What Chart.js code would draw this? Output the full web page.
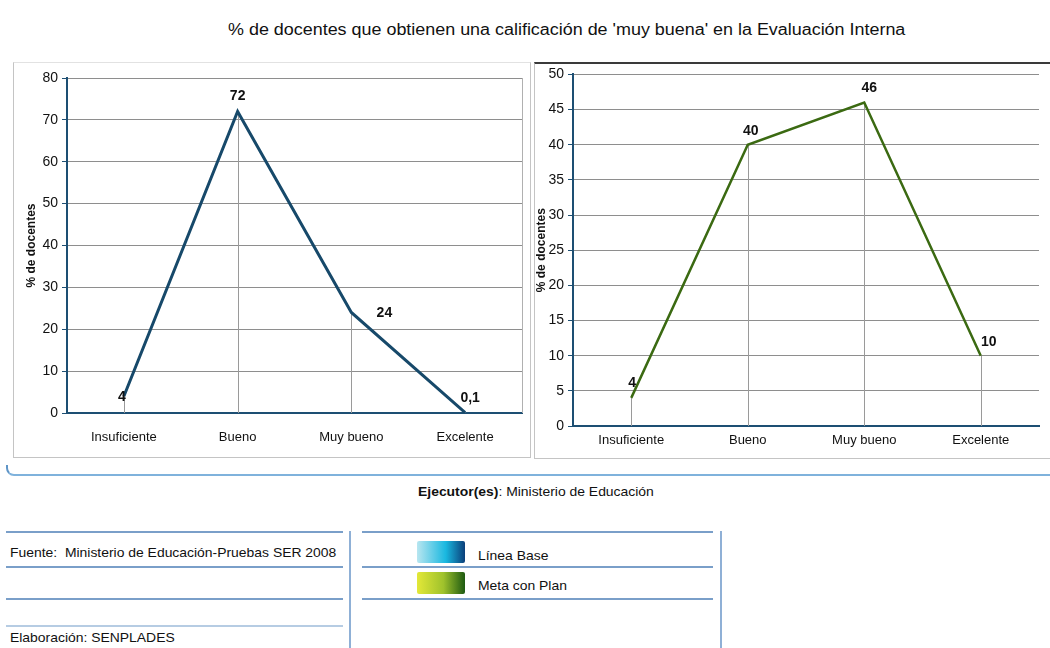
<!DOCTYPE html>
<html>
<head>
<meta charset="utf-8">
<script src="https://cdn.jsdelivr.net/npm/chart.js@4.4.1/dist/chart.umd.min.js"></script>
<style>
  html, body { margin:0; padding:0; background:#fff; }
  body { width:1050px; height:648px; position:relative; overflow:hidden; font-family:"Liberation Sans", Arial, sans-serif; color:#111; }
  .abs { position:absolute; }
  #title { left:228px; top:21px; font-size:16px; white-space:nowrap; transform:scaleX(1.12); transform-origin:0 50%; }
  #panelL { left:13px; top:62px; width:516px; height:394px; border:1px solid #c4c4c4; border-top-color:#e2e2e2; }
  #panelR { left:534px; top:62px; width:520px; height:394px; border-left:1px solid #c4c4c4; border-top:2px solid #3a3a3a; border-bottom:1px solid #c4c4c4; }
  canvas { position:absolute; }
  #hook { left:6px; top:465px; width:1060px; height:9px; border-left:2px solid #5f95c7; border-bottom:2px solid #7fb2dc; border-bottom-left-radius:8px; }
  .hl { height:0; border-top:2px solid #7a9fc9; }
  .vl { width:0; border-left:2px solid #8fb0d6; }
  .txt { font-size:13px; white-space:nowrap; transform:scaleX(1.07); transform-origin:0 50%; }
  .sw { width:48px; height:22px; border-radius:2px; }
</style>
</head>
<body>
<div id="title" class="abs">% de docentes que obtienen una calificación de 'muy buena' en la Evaluación Interna</div>
<div id="panelL" class="abs"></div>
<div id="panelR" class="abs"></div>
<canvas id="c1" width="516" height="395" style="left:14px;top:62px;width:516px;height:395px;"></canvas>
<canvas id="c2" width="517" height="395" style="left:533px;top:62px;width:517px;height:395px;"></canvas>

<div id="hook" class="abs"></div>
<div class="abs txt" style="left:418px;top:484px;"><b>Ejecutor(es)</b>: Ministerio de Educación</div>

<div class="abs hl" style="left:6px;top:531px;width:337px;"></div>
<div class="abs hl" style="left:6px;top:566px;width:337px;"></div>
<div class="abs hl" style="left:6px;top:598px;width:337px;"></div>
<div class="abs hl" style="left:6px;top:625px;width:337px;border-top-color:#b6cce3;"></div>
<div class="abs txt" style="left:10px;top:545px;">Fuente:&nbsp; Ministerio de Educación-Pruebas SER 2008</div>
<div class="abs txt" style="left:10px;top:630px;">Elaboración: SENPLADES</div>
<div class="abs vl" style="left:349px;top:531px;height:120px;"></div>

<div class="abs hl" style="left:362px;top:531px;width:351px;"></div>
<div class="abs hl" style="left:362px;top:566px;width:351px;"></div>
<div class="abs hl" style="left:362px;top:598px;width:351px;"></div>
<div class="abs vl" style="left:720px;top:531px;height:120px;"></div>
<div class="abs sw" style="left:417px;top:541px;background:linear-gradient(90deg,#b8e6f0 0%,#19b8e0 60%,#0b3f7a 100%);"></div>
<div class="abs sw" style="left:417px;top:572px;background:linear-gradient(90deg,#e3e838 0%,#9fc22c 55%,#1e5a12 100%);"></div>
<div class="abs txt" style="left:478px;top:548px;">Línea Base</div>
<div class="abs txt" style="left:478px;top:578px;">Meta con Plan</div>

<script>
// ---- data ----
const categories = ["Insuficiente", "Bueno", "Muy bueno", "Excelente"];
const lineaBase = [4, 72, 24, 0.1];
const metaConPlan = [4, 40, 46, 10];
const labelsBase = ["4", "72", "24", "0,1"];
const labelsMeta = ["4", "40", "46", "10"];
const yTitle = "% de docentes";

const FONT = "'Liberation Sans', Arial, sans-serif";

const dropLines = {
  id: 'dropLines',
  beforeDatasetsDraw(chart) {
    const ctx = chart.ctx;
    const meta = chart.getDatasetMeta(0);
    const yb = chart.scales.y.getPixelForValue(0);
    ctx.save();
    ctx.strokeStyle = '#9a9a9a';
    ctx.lineWidth = 1;
    meta.data.forEach(p => {
      const x = Math.round(p.x) + 0.5;
      ctx.beginPath(); ctx.moveTo(x, yb); ctx.lineTo(x, p.y); ctx.stroke();
    });
    const o = chart.options.plugins.dropLines || {};
    if (o.rightBorder) {
      const a = chart.chartArea;
      ctx.strokeStyle = '#b0b0b0';
      ctx.beginPath(); ctx.moveTo(a.right + 0.5, a.top); ctx.lineTo(a.right + 0.5, a.bottom); ctx.stroke();
    }
    ctx.restore();
  }
};

const valueLabels = {
  id: 'valueLabels',
  afterDatasetsDraw(chart) {
    const o = chart.options.plugins.valueLabels;
    const ctx = chart.ctx;
    const meta = chart.getDatasetMeta(0);
    ctx.save();
    ctx.font = 'bold 14px ' + FONT;
    ctx.fillStyle = '#111';
    ctx.textAlign = 'center';
    ctx.textBaseline = 'middle';
    meta.data.forEach((p, i) => {
      const off = o.offsets[i];
      ctx.fillText(o.texts[i], p.x + off[0], p.y + off[1]);
    });
    ctx.restore();
  }
};

function makeChart(id, data, texts, color, width, yMax, step, opts) {
  return new Chart(document.getElementById(id), {
    type: 'line',
    data: { labels: categories, datasets: [{ data: data, borderColor: color, borderWidth: width, pointRadius: 0, tension: 0, fill: false }] },
    plugins: [dropLines, valueLabels],
    options: {
      responsive: false, animation: false,
      layout: { padding: opts.padding },
      plugins: {
        legend: { display: false }, tooltip: { enabled: false },
        valueLabels: { texts: texts, offsets: opts.offsets },
        dropLines: { rightBorder: opts.rightBorder }
      },
      scales: {
        x: {
          offset: true,
          grid: { display: false, drawTicks: false },
          border: { display: true, color: '#1d4f73', width: 2 },
          ticks: { color: '#111', font: { family: FONT, size: 13 }, padding: opts.xPad, maxRotation: 0 },
          afterFit: s => { s.height = opts.xH; }
        },
        y: {
          min: 0, max: yMax,
          ticks: { stepSize: step, color: '#111', font: { family: FONT, size: 14 }, padding: 4 },
          grid: { color: '#8e8e8e', lineWidth: 1, tickLength: 5, tickColor: '#1d4f73' },
          border: { display: true, color: '#1d4f73', width: 2 },
          title: { display: true, text: yTitle, color: '#111', font: { family: FONT, size: 12, weight: 'bold' }, padding: { top: opts.tPad, bottom: 0 } },
          afterFit: s => { s.width = opts.yW; }
        }
      }
    }
  });
}

makeChart('c1', lineaBase, labelsBase, '#17496a', 3, 80, 10, {
  padding: { top: 16, right: 8, bottom: 0, left: 0 },
  xH: 44, yW: 53, xPad: 17, tPad: 10, rightBorder: true,
  offsets: [[-2, 1], [0, -15], [33, 1], [5, -14]]
});
makeChart('c2', metaConPlan, labelsMeta, '#3b6a12', 2.5, 50, 5, {
  padding: { top: 12, right: 11, bottom: 0, left: 0 },
  xH: 31, yW: 40, xPad: 7, tPad: 1, rightBorder: false,
  offsets: [[1, -15], [3, -14], [5, -14], [8, -14]]
});
</script>
</body>
</html>
